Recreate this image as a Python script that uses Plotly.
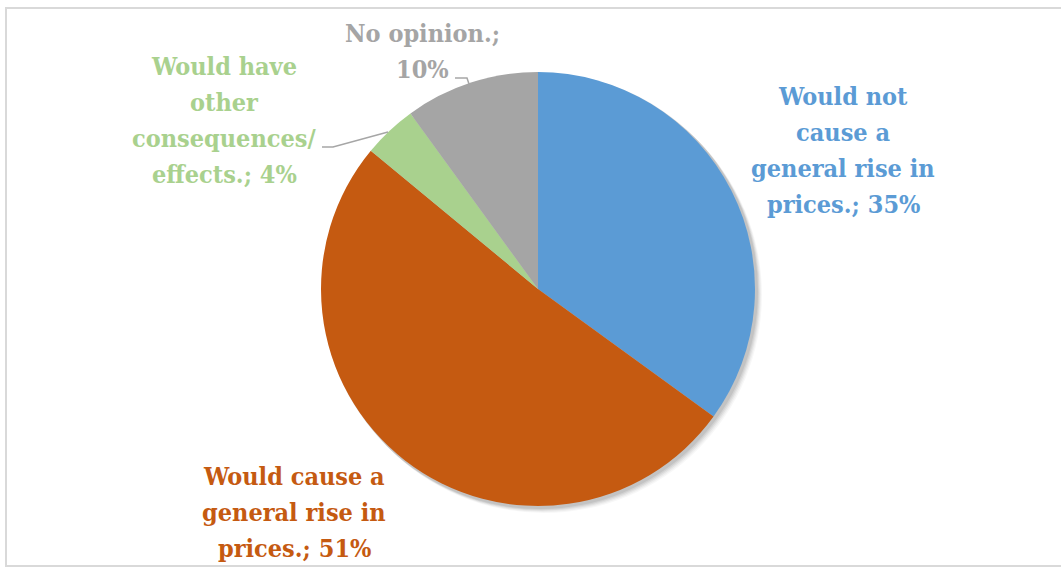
import plotly.graph_objects as go

# Survey answers and their shares (%)
labels = [
    "Would not cause a general rise in prices.",
    "Would cause a general rise in prices.",
    "Would have other consequences/ effects.",
    "No opinion.",
]
values = [35, 51, 4, 10]
colors = ["#5B9BD5", "#C55A11", "#A9D18E", "#A5A5A5"]

# Wrapped label text shown beside the pie
label_lines = [
    ["Would not", "cause a", "general rise in", "prices.; {}%"],
    ["Would cause a", "general rise in", "prices.; {}%"],
    ["Would have", "other", "consequences/", "effects.; {}%"],
    ["No opinion.;", "{}%"],
]

W, H = 1061, 568
cx, cy, r = 538, 289, 217  # pie centre and radius in pixels
SERIF = "DejaVu Serif Condensed, DejaVu Serif"
FS = 25          # label font size
LINE_GAP = 36    # baseline-to-baseline distance of label lines


def px(x):
    return x / W


def py(y):
    return 1 - y / H


fig = go.Figure()
fig.add_trace(go.Pie(
    labels=labels,
    values=values,
    sort=False,
    direction="clockwise",
    rotation=0,
    marker=dict(colors=colors, line=dict(width=0)),
    textinfo="none",
    hoverinfo="label+percent",
    showlegend=False,
    domain=dict(x=[px(cx - r), px(cx + r)], y=[py(cy + r), py(cy - r)]),
))

shapes = []
# soft drop shadow under the pie
for off, op in [(6, 0.03), (5, 0.04), (4, 0.05), (3, 0.06), (2, 0.07)]:
    shapes.append(dict(
        type="circle", xref="paper", yref="paper", layer="below",
        x0=px(cx - r + off - 1), x1=px(cx + r + off + 1),
        y0=py(cy + r + off + 1), y1=py(cy - r + off - 1),
        fillcolor=f"rgba(0,0,0,{op})", line=dict(width=0),
    ))

# chart-area frame
shapes.append(dict(
    type="path", xref="paper", yref="paper",
    path=f"M {px(1070)},{py(8)} L {px(6)},{py(8)} L {px(6)},{py(566)} L {px(1070)},{py(566)}",
    line=dict(color="#D9D9D9", width=2),
))

# leader lines for the two small slices
leaders = [
    [(322, 147), (333, 147), (388, 132)],
    [(455, 78), (467, 78), (469, 84)],
]
for pts in leaders:
    path = "M " + " L ".join(f"{px(x)},{py(y)}" for x, y in pts)
    shapes.append(dict(type="path", xref="paper", yref="paper", path=path,
                       line=dict(color="#A6A6A6", width=1.5)))

# label block: centre x and first baseline y, in pixels
label_pos = [(843, 105), (294, 485), (224, 75), (422, 42)]
annotations = []
for lines, v, c, (x, y0) in zip(label_lines, values, colors, label_pos):
    for i, line in enumerate(lines):
        base = y0 + i * LINE_GAP
        annotations.append(dict(
            x=px(x), y=py(base - 0.33 * FS), xref="paper", yref="paper",
            text=f"<b>{line.format(v)}</b>", showarrow=False, align="center",
            xanchor="center", yanchor="middle",
            font=dict(family=SERIF, size=FS, color=c),
        ))

fig.update_layout(
    width=W, height=H,
    margin=dict(l=0, r=0, t=0, b=0),
    paper_bgcolor="white",
    plot_bgcolor="white",
    font=dict(family=SERIF),
    shapes=shapes,
    annotations=annotations,
)

fig.write_html("out.html", include_plotlyjs=True, config={"displayModeBar": False})
